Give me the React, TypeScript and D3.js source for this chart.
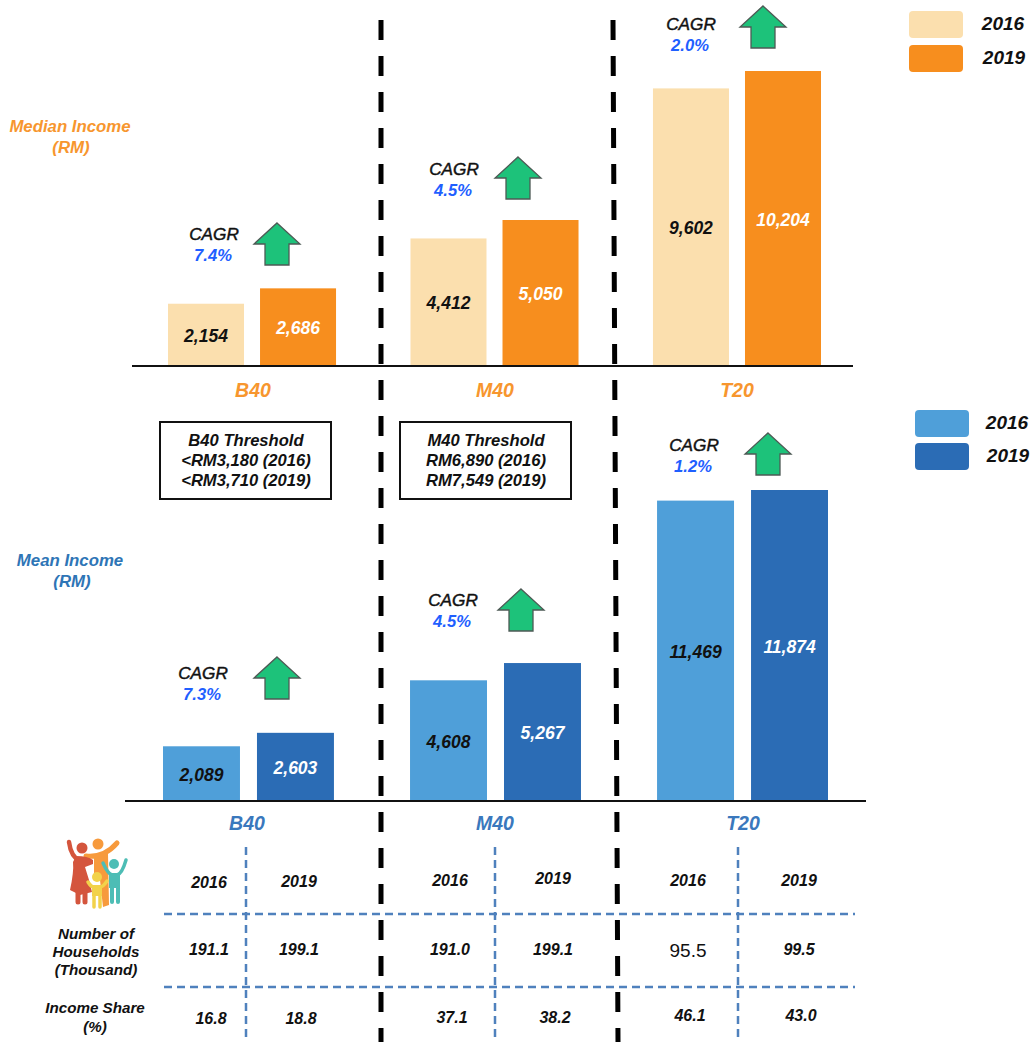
import { useEffect, useRef } from 'react';
import * as d3 from 'd3';

const groups = ['B40', 'M40', 'T20'];
const years = ['2016', '2019'];

const median2016 = [2154, 4412, 9602];
const median2019 = [2686, 5050, 10204];
const mean2016 = [2089, 4608, 11469];
const mean2019 = [2603, 5267, 11874];

const medianCagr = ['7.4%', '4.5%', '2.0%'];
const meanCagr = ['7.3%', '4.5%', '1.2%'];

const thresholds = [
    ['B40 Threshold', '<RM3,180 (2016)', '<RM3,710 (2019)'],
    ['M40 Threshold', 'RM6,890 (2016)', 'RM7,549 (2019)'],
];

const households = ['191.1', '199.1', '191.0', '199.1', '95.5', '99.5'];
const incomeShare = ['16.8', '18.8', '37.1', '38.2', '46.1', '43.0'];

const FONT = '"Liberation Sans", Arial, sans-serif';

export default function App() {
    const svgRef = useRef<SVGSVGElement>(null);

    useEffect(() => {
        if (!svgRef.current) return;
        d3.select(svgRef.current).selectAll('*').remove();

        const svg = d3.select(svgRef.current)
            .attr('width', 1034)
            .attr('height', 1042)
            .style('font-family', FONT)
            .style('font-style', 'italic')
            .style('font-weight', 'bold');

        const label = (x: number, y: number, s: string, size: number, fill = '#111') =>
            svg.append('text')
                .attr('x', x).attr('y', y)
                .attr('text-anchor', 'middle')
                .attr('font-size', size)
                .attr('fill', fill)
                .text(s);

        const arrow = (cx: number, top: number) => {
            const pts: [number, number][] = [[0, 0], [23, 21], [12, 21], [12, 42], [-12, 42], [-12, 21], [-23, 21]];
            svg.append('path')
                .attr('transform', `translate(${cx},${top})`)
                .attr('d', d3.line()(pts) + 'Z')
                .attr('fill', '#1dc27a')
                .attr('stroke', '#4d5a55')
                .attr('stroke-width', 1.3);
        };

        // One bar panel, median on top and mean below
        const panel = (opts: {
            v16: number[]; v19: number[]; cagr: string[];
            base: number; top: number; maxV: number;
            range: [number, number]; padOuter: number; padInner: number;
            colors: string[]; axis: [number, number]; axisColor: string;
            labelXs: number[]; labelY: number;
            cagrPos: [number, number][]; arrows: [number, number][];
        }) => {
            const x0 = d3.scaleBand().domain(groups).range(opts.range).paddingInner(opts.padOuter);
            const x1 = d3.scaleBand().domain(years).range([0, x0.bandwidth()]).paddingInner(opts.padInner);
            const y = d3.scaleLinear().domain([0, opts.maxV]).range([opts.base, opts.top]);

            groups.forEach((g, i) => {
                [opts.v16[i], opts.v19[i]].forEach((v, j) => {
                    const bx = (x0(g) || 0) + (x1(years[j]) || 0);
                    svg.append('rect')
                        .attr('x', bx)
                        .attr('y', y(v))
                        .attr('width', x1.bandwidth())
                        .attr('height', opts.base - y(v))
                        .attr('fill', opts.colors[j]);
                    label(bx + x1.bandwidth() / 2, (y(v) + opts.base) / 2 + 7, d3.format(',')(v), 17.5, j === 0 ? '#111' : '#fff');
                });
                label(opts.labelXs[i], opts.labelY, g, 19.5, opts.axisColor);
                const [cx, cy] = opts.cagrPos[i];
                label(cx, cy, 'CAGR', 17.2).style('font-weight', 'normal').style('stroke', '#111').style('stroke-width', 0.45);
                label(cx - 1, cy + 21, opts.cagr[i], 16.6, '#1f5fff');
                arrow(opts.arrows[i][0], opts.arrows[i][1]);
            });

            svg.append('line')
                .attr('x1', opts.axis[0]).attr('x2', opts.axis[1])
                .attr('y1', opts.base).attr('y2', opts.base)
                .attr('stroke', '#111').attr('stroke-width', 2);
        };

        panel({
            v16: median2016, v19: median2019, cagr: medianCagr,
            base: 366, top: 71, maxV: 10204,
            range: [168, 821], padOuter: 0.307, padInner: 0.174,
            colors: ['#fbdfae', '#f78e1e'], axis: [132, 853], axisColor: '#f7962e',
            labelXs: [253, 495, 737], labelY: 397,
            cagrPos: [[214, 240], [454, 175], [691, 30]],
            arrows: [[277, 223], [518, 157], [763, 6]],
        });

        panel({
            v16: mean2016, v19: mean2019, cagr: meanCagr,
            base: 801, top: 490, maxV: 11874,
            range: [163, 828], padOuter: 0.308, padInner: 0.181,
            colors: ['#4f9fd9', '#2b6cb5'], axis: [125, 866], axisColor: '#3a78bd',
            labelXs: [247, 495, 743], labelY: 830,
            cagrPos: [[203, 679], [453, 606], [694, 451]],
            arrows: [[277, 657], [521, 589], [768, 433]],
        });

        // Section dividers
        [[381, 381], [613, 618]].forEach(([a, b]) => {
            svg.append('line')
                .attr('x1', a).attr('x2', b)
                .attr('y1', 20).attr('y2', 1042)
                .attr('stroke', '#000')
                .attr('stroke-width', 5)
                .attr('stroke-dasharray', '20 16');
        });

        // Side titles
        label(70, 132, 'Median Income', 16.8, '#f7962e');
        label(71, 153, '(RM)', 16.8, '#f7962e');
        label(70, 566, 'Mean Income', 16.8, '#2e75b6');
        label(72, 587, '(RM)', 16.8, '#2e75b6');

        // Legends
        const legend = (x: number, ys: number[], colors: string[], tx: number) => {
            ys.forEach((yy, i) => {
                svg.append('rect')
                    .attr('x', x).attr('y', yy)
                    .attr('width', 54).attr('height', 27)
                    .attr('rx', 4)
                    .attr('fill', colors[i]);
                label(tx + (i ? 1 : 0), yy + 19, years[i], 19);
            });
        };
        legend(909, [11, 45], ['#fbdfae', '#f78e1e'], 1003);
        legend(915, [410, 443], ['#4f9fd9', '#2b6cb5'], 1007);

        // Threshold boxes
        thresholds.forEach((lines, i) => {
            const bx = 160 + i * 240;
            svg.append('rect')
                .attr('x', bx).attr('y', 422)
                .attr('width', 171).attr('height', 77)
                .attr('fill', '#fff')
                .attr('stroke', '#111')
                .attr('stroke-width', 2);
            lines.forEach((t, k) => label(bx + 86, 446 + k * 20, t, 16.6));
        });

        // Table grid
        const gridColor = '#4f81bd';
        [246, 495, 738].forEach(x => {
            svg.append('line')
                .attr('x1', x).attr('x2', x).attr('y1', 847).attr('y2', 1042)
                .attr('stroke', gridColor).attr('stroke-width', 2.5).attr('stroke-dasharray', '8 5');
        });
        [914, 987].forEach(y => {
            svg.append('line')
                .attr('x1', 164).attr('x2', 855).attr('y1', y).attr('y2', y)
                .attr('stroke', gridColor).attr('stroke-width', 2.5).attr('stroke-dasharray', '8 5');
        });

        // Table cells
        const colXs = [209, 299, 450, 553, 688, 799];
        const yearYs = [888, 887, 886, 884, 886, 886];
        const houseYs = [955, 955, 955, 955, 955, 955];
        const shareYs = [1024, 1024, 1023, 1023, 1021, 1021];
        colXs.forEach((x, i) => {
            label(x, yearYs[i], years[i % 2], 16);
            const h = label(x, houseYs[i], households[i], 16);
            if (households[i] === '95.5') {
                h.style('font-weight', 'normal').style('font-style', 'normal').attr('font-size', 19).attr('y', 957);
            }
            label(x + 2, shareYs[i], incomeShare[i], 16);
        });

        label(96, 939, 'Number of', 15.2);
        label(96, 957, 'Households', 15.2);
        label(96, 975, '(Thousand)', 15.2);
        label(95, 1013, 'Income Share', 15.2);
        label(95, 1032, '(%)', 15.2);

        // Family icon
        const icon = svg.append('g').attr('stroke-linecap', 'round').attr('stroke-linejoin', 'round');
        const limb = (d: string, color: string, w: number) =>
            icon.append('path').attr('d', d).attr('fill', 'none').attr('stroke', color).attr('stroke-width', w);
        const blob = (d: string, color: string) => icon.append('path').attr('d', d).attr('fill', color);
        const head = (cx: number, cy: number, r: number, color: string) =>
            icon.append('circle').attr('cx', cx).attr('cy', cy).attr('r', r).attr('fill', color);

        head(98, 844, 5.5, '#f79a3c');
        limb('M86 856 Q104 858 117 843', '#f79a3c', 5);
        blob('M94 854 L108 854 L109 905 L103 907 L100 880 L94 880 Z', '#f79a3c');

        head(82, 848, 5.5, '#d4553d');
        limb('M69 842 Q71 857 80 861', '#d4553d', 4.5);
        blob('M76 856 Q88 856 93 860 L93 864 L85 867 L89 880 L92 892 L80 895 L70 890 Q74 872 73 862 Z', '#d4553d');
        limb('M78 892 L78 902', '#d4553d', 5);
        limb('M85 892 L85 902', '#d4553d', 5);

        head(114, 864, 5, '#4dbdb5');
        limb('M103 863 Q108 874 112 875', '#4dbdb5', 3.5);
        limb('M126 860 Q122 874 117 875', '#4dbdb5', 3.5);
        blob('M109 873 L120 873 L120 888 L109 888 Z', '#4dbdb5');
        limb('M112 888 L112 902', '#4dbdb5', 4);
        limb('M118 888 L118 902', '#4dbdb5', 4);

        head(97, 877, 5, '#f2d24a');
        limb('M88 882 Q91 887 94 887', '#f2d24a', 3.5);
        limb('M107 881 Q103 887 100 887', '#f2d24a', 3.5);
        blob('M92 885 L102 885 L102 896 L92 896 Z', '#f2d24a');
        limb('M94 896 L94 907', '#f2d24a', 3.5);
        limb('M100 896 L100 907', '#f2d24a', 3.5);
    }, []);

    return <svg ref={svgRef} style={{ position: 'absolute', left: 0, top: 0, background: '#fff' }} />;
}
